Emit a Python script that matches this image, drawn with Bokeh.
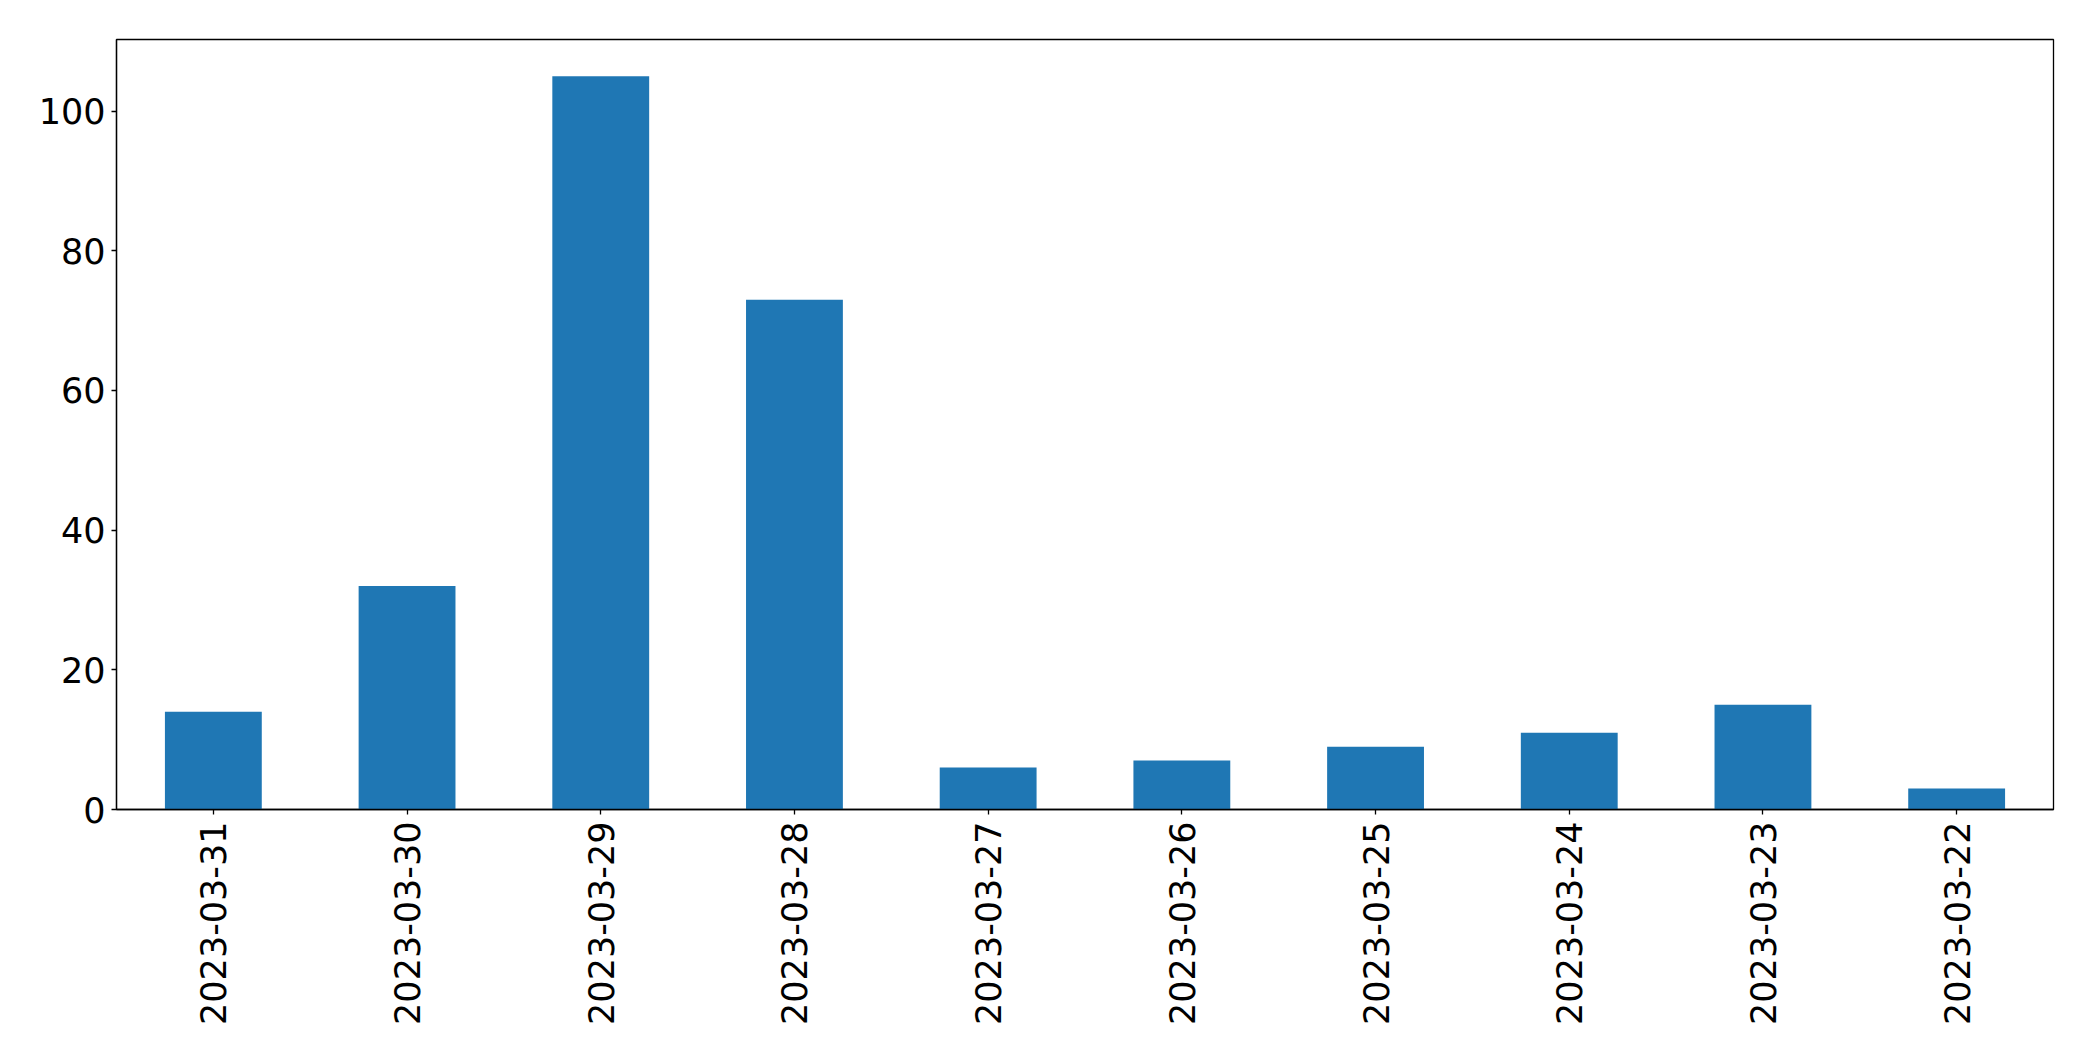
import math
from bokeh.plotting import figure
from bokeh.models import FactorRange, Range1d, FixedTicker, ColumnDataSource
from bokeh.embed import file_html
from bokeh.resources import INLINE

dates = ["2023-03-31", "2023-03-30", "2023-03-29", "2023-03-28", "2023-03-27",
         "2023-03-26", "2023-03-25", "2023-03-24", "2023-03-23", "2023-03-22"]
counts = [14, 32, 105, 73, 6, 7, 9, 11, 15, 3]
y_ticks = [0, 20, 40, 60, 80, 100]

source = ColumnDataSource(data=dict(dates=dates, counts=counts))

p = figure(
    x_range=FactorRange(factors=dates, range_padding=0),
    y_range=Range1d(0, max(counts) * 1.05),
    frame_width=1937, frame_height=770,
    min_border_left=116, min_border_right=32,
    min_border_top=39, min_border_bottom=236,
    output_backend="svg", toolbar_location=None,
    background_fill_color="white", border_fill_color="white",
)

p.vbar(x="dates", top="counts", width=0.5, source=source,
       fill_color="#1f77b4", line_color=None)

p.xgrid.visible = False
p.ygrid.visible = False
p.outline_line_color = "black"
p.outline_line_width = 1.3
p.outline_line_alpha = 1

for ax in (p.xaxis[0], p.yaxis[0]):
    ax.axis_line_color = "black"
    ax.axis_line_width = 1.3
    ax.major_tick_line_color = "black"
    ax.major_tick_line_width = 1.3
    ax.major_tick_out = 5
    ax.major_tick_in = 0
    ax.minor_tick_line_color = None
    ax.major_label_text_font = "DejaVu Sans"
    ax.major_label_text_font_size = "35px"
    ax.major_label_text_color = "black"

p.yaxis[0].ticker = FixedTicker(ticks=y_ticks)
p.yaxis[0].major_label_standoff = 6
p.xaxis[0].major_label_orientation = math.pi / 2
p.xaxis[0].major_label_standoff = 7

open("out.html", "w").write(file_html(p, INLINE))
